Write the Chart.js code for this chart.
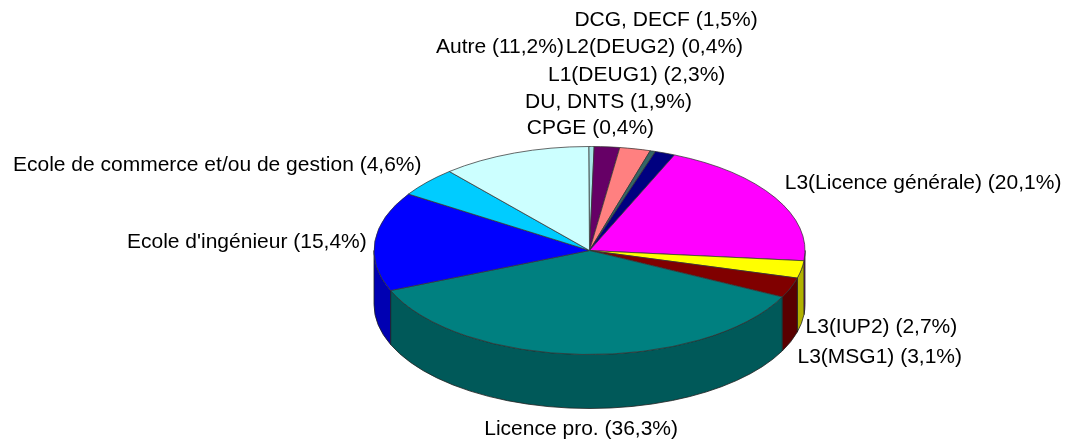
<!DOCTYPE html>
<html><head><meta charset="utf-8">
<style>html,body{margin:0;padding:0;background:#fff}#w{width:1072px;height:441px}</style>
<script src="https://cdn.jsdelivr.net/npm/chart.js@4/dist/chart.umd.js"></script>
</head><body><div id="w"><canvas id="c" width="1072" height="441"></canvas></div>
<script>
const categories = ["CPGE","DU, DNTS","L1(DEUG1)","L2(DEUG2)","DCG, DECF","L3(Licence générale)","L3(IUP2)","L3(MSG1)","Licence pro.","Ecole d'ingénieur","Ecole de commerce et/ou de gestion","Autre"];
const values = [0.4,1.9,2.3,0.4,1.5,20.1,2.7,3.1,36.3,15.4,4.6,11.2];
const colors = ["#A6E6E6","#660066","#FF8080","#336666","#000080","#FF00FF","#FFFF00","#800000","#008080","#0000FF","#00CCFF","#CCFFFF"];
const labelOffsets = [[-1,-18],[1.5,-45],[1.5,-74],[1.5,-104],[1,-133],[148,-14],[80,58],[89,69],[-1,75],[-128,1],[-210,-17],[-14.5,-105.6]];
const tilt = 0.4826, faceCenterY = 250.5, depth = 54;

function shade(hex,f){const n=parseInt(hex.slice(1),16);
  return `rgb(${((n>>16)&255)*f|0},${((n>>8)&255)*f|0},${(n&255)*f|0})`;}

const pie3d = {
  id:'pie3d',
  beforeDatasetsDraw(chart){
    const ctx=chart.ctx, arcs=chart.getDatasetMeta(0).data;
    const cx=arcs[0].x, R=arcs[0].outerRadius, r=R*tilt, cy=faceCenterY;
    arcs.forEach((arc,i)=>{
      let a0=arc.startAngle, a1=arc.endAngle;
      const segs=[[a0,a1],[a0-2*Math.PI,a1-2*Math.PI],[a0+2*Math.PI,a1+2*Math.PI]];
      segs.forEach(([s,e])=>{
        s=Math.max(s,0); e=Math.min(e,Math.PI);
        if(e<=s) return;
        ctx.beginPath();
        ctx.ellipse(cx,cy,R,r,0,s,e,false);
        ctx.ellipse(cx,cy+depth,R,r,0,e,s,true);
        ctx.closePath();
        ctx.fillStyle=shade(colors[i],0.7);
        ctx.fill();
        ctx.strokeStyle='#222';ctx.lineWidth=0.8;ctx.stroke();
      });
    });
    ctx.save();
    ctx.translate(0,faceCenterY);
    ctx.scale(1,tilt);
    ctx.translate(0,-arcs[0].y);
  },
  afterDatasetsDraw(chart){
    const ctx=chart.ctx, arcs=chart.getDatasetMeta(0).data;
    ctx.restore();
    const cx=arcs[0].x, R=arcs[0].outerRadius;
    ctx.save();
    ctx.font='21px "Liberation Sans", Arial, sans-serif';
    ctx.fillStyle='#000';ctx.textAlign='center';ctx.textBaseline='middle';
    arcs.forEach((arc,i)=>{
      const mid=(arc.startAngle+arc.endAngle)/2;
      const x=cx+R*Math.cos(mid)+labelOffsets[i][0];
      const y=faceCenterY+R*tilt*Math.sin(mid)+labelOffsets[i][1];
      ctx.fillText(`${categories[i]} (${String(values[i]).replace('.',',')}%)`,x,y);
    });
    ctx.restore();
  }
};

new Chart(document.getElementById('c'),{
  type:'pie',
  data:{labels:categories,datasets:[{data:values,backgroundColor:colors,borderColor:'#333',borderWidth:1}]},
  options:{responsive:false,animation:false,
    layout:{padding:{left:107,right:0,top:5,bottom:4}},
    plugins:{legend:{display:false},tooltip:{enabled:false}},
    rotation:-0.2},
  plugins:[pie3d]
});
</script></body></html>
